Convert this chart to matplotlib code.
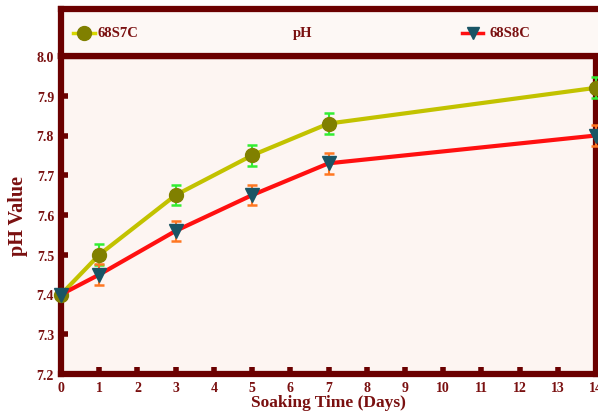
import matplotlib
matplotlib.use("Agg")
import matplotlib.pyplot as plt
from matplotlib.lines import Line2D

days = [0, 1, 3, 5, 7, 14]
s7c = [7.40, 7.50, 7.65, 7.75, 7.83, 7.92]
s7c_err = [0.0, 0.026, 0.026, 0.026, 0.026, 0.026]
s8c = [7.40, 7.45, 7.56, 7.65, 7.73, 7.80]
s8c_err = [0.0, 0.026, 0.026, 0.026, 0.026, 0.026]
xticks = list(range(0, 15))
yticks = [7.2, 7.3, 7.4, 7.5, 7.6, 7.7, 7.8, 7.9, 8.0]

dark = "#6b0000"
txt = "#7a1010"
plt.rcParams['font.family'] = ['Liberation Serif', 'DejaVu Serif']
plt.rcParams['font.weight'] = 'bold'

fig = plt.figure(figsize=(5.98, 4.14), dpi=100)
fig.patch.set_facecolor("white")
L, R = 61/598, 596/598
B, T = 1-375/414, 1-57/414
ax = fig.add_axes([L, B, R-L, T-B])
ax.set_facecolor("#fdf5f2")

ax.errorbar(days, s7c, yerr=s7c_err, color="#c2c200", lw=3, marker="o",
            ms=10, mfc="#808000", mec="#808000", ecolor="#33ee33",
            elinewidth=1.5, capsize=3.5, capthick=1.8, zorder=3, clip_on=False)
ax.errorbar(days, s8c, yerr=s8c_err, color="#ff1010", lw=3, marker="v",
            ms=10, mfc="#1a5565", mec="#1a5565", ecolor="#ff7722",
            elinewidth=1.5, capsize=3.5, capthick=1.8, zorder=3, clip_on=False)

ax.set_xlim(0, 14)
ax.set_ylim(7.2, 8.0)
ax.set_xticks(xticks)
ax.set_yticks(yticks)
ax.set_yticklabels([f"{v:.1f}" for v in yticks])
for s in ax.spines.values():
    s.set_color(dark)
    s.set_linewidth(4.5)
ax.tick_params(direction="in", length=5, width=4, color=dark,
               labelcolor=txt, labelsize=10, pad=5)
for lab in ax.get_xticklabels() + ax.get_yticklabels():
    lab.set_fontweight("bold")
ax.set_xlabel("Soaking Time (Days)", fontsize=12.5, fontweight="bold", color=txt, labelpad=0)
ax.set_ylabel("pH Value", fontsize=14.5, fontweight="bold", color=txt, labelpad=6)

# legend box
lg = fig.add_axes([L, 1-57/414, (598-61)/598 + 0.01, (57-10)/414])
lg.set_facecolor("#fdf8f5")
lg.set_xlim(0, 1); lg.set_ylim(0, 1)
lg.set_xticks([]); lg.set_yticks([])
for s in lg.spines.values():
    s.set_color(dark)
    s.set_linewidth(4.5)
lg.add_line(Line2D([0.022, 0.063], [0.5, 0.5], color="#d8d800", lw=2.5))
lg.plot([0.042], [0.5], marker="o", ms=10, color="#808000")
lg.text(0.068, 0.5, "68S7C", va="center", ha="left", fontsize=10.5, fontweight="bold", color=txt)
lg.text(0.445, 0.5, "pH", va="center", ha="center", fontsize=10.5, fontweight="bold", color=txt)
lg.add_line(Line2D([0.738, 0.777], [0.5, 0.5], color="#ff1010", lw=2.5))
lg.plot([0.758], [0.5], marker="v", ms=9, color="#1a5565")
lg.text(0.79, 0.5, "68S8C", va="center", ha="left", fontsize=10.5, fontweight="bold", color=txt)

fig.savefig("out.png", dpi=100)
